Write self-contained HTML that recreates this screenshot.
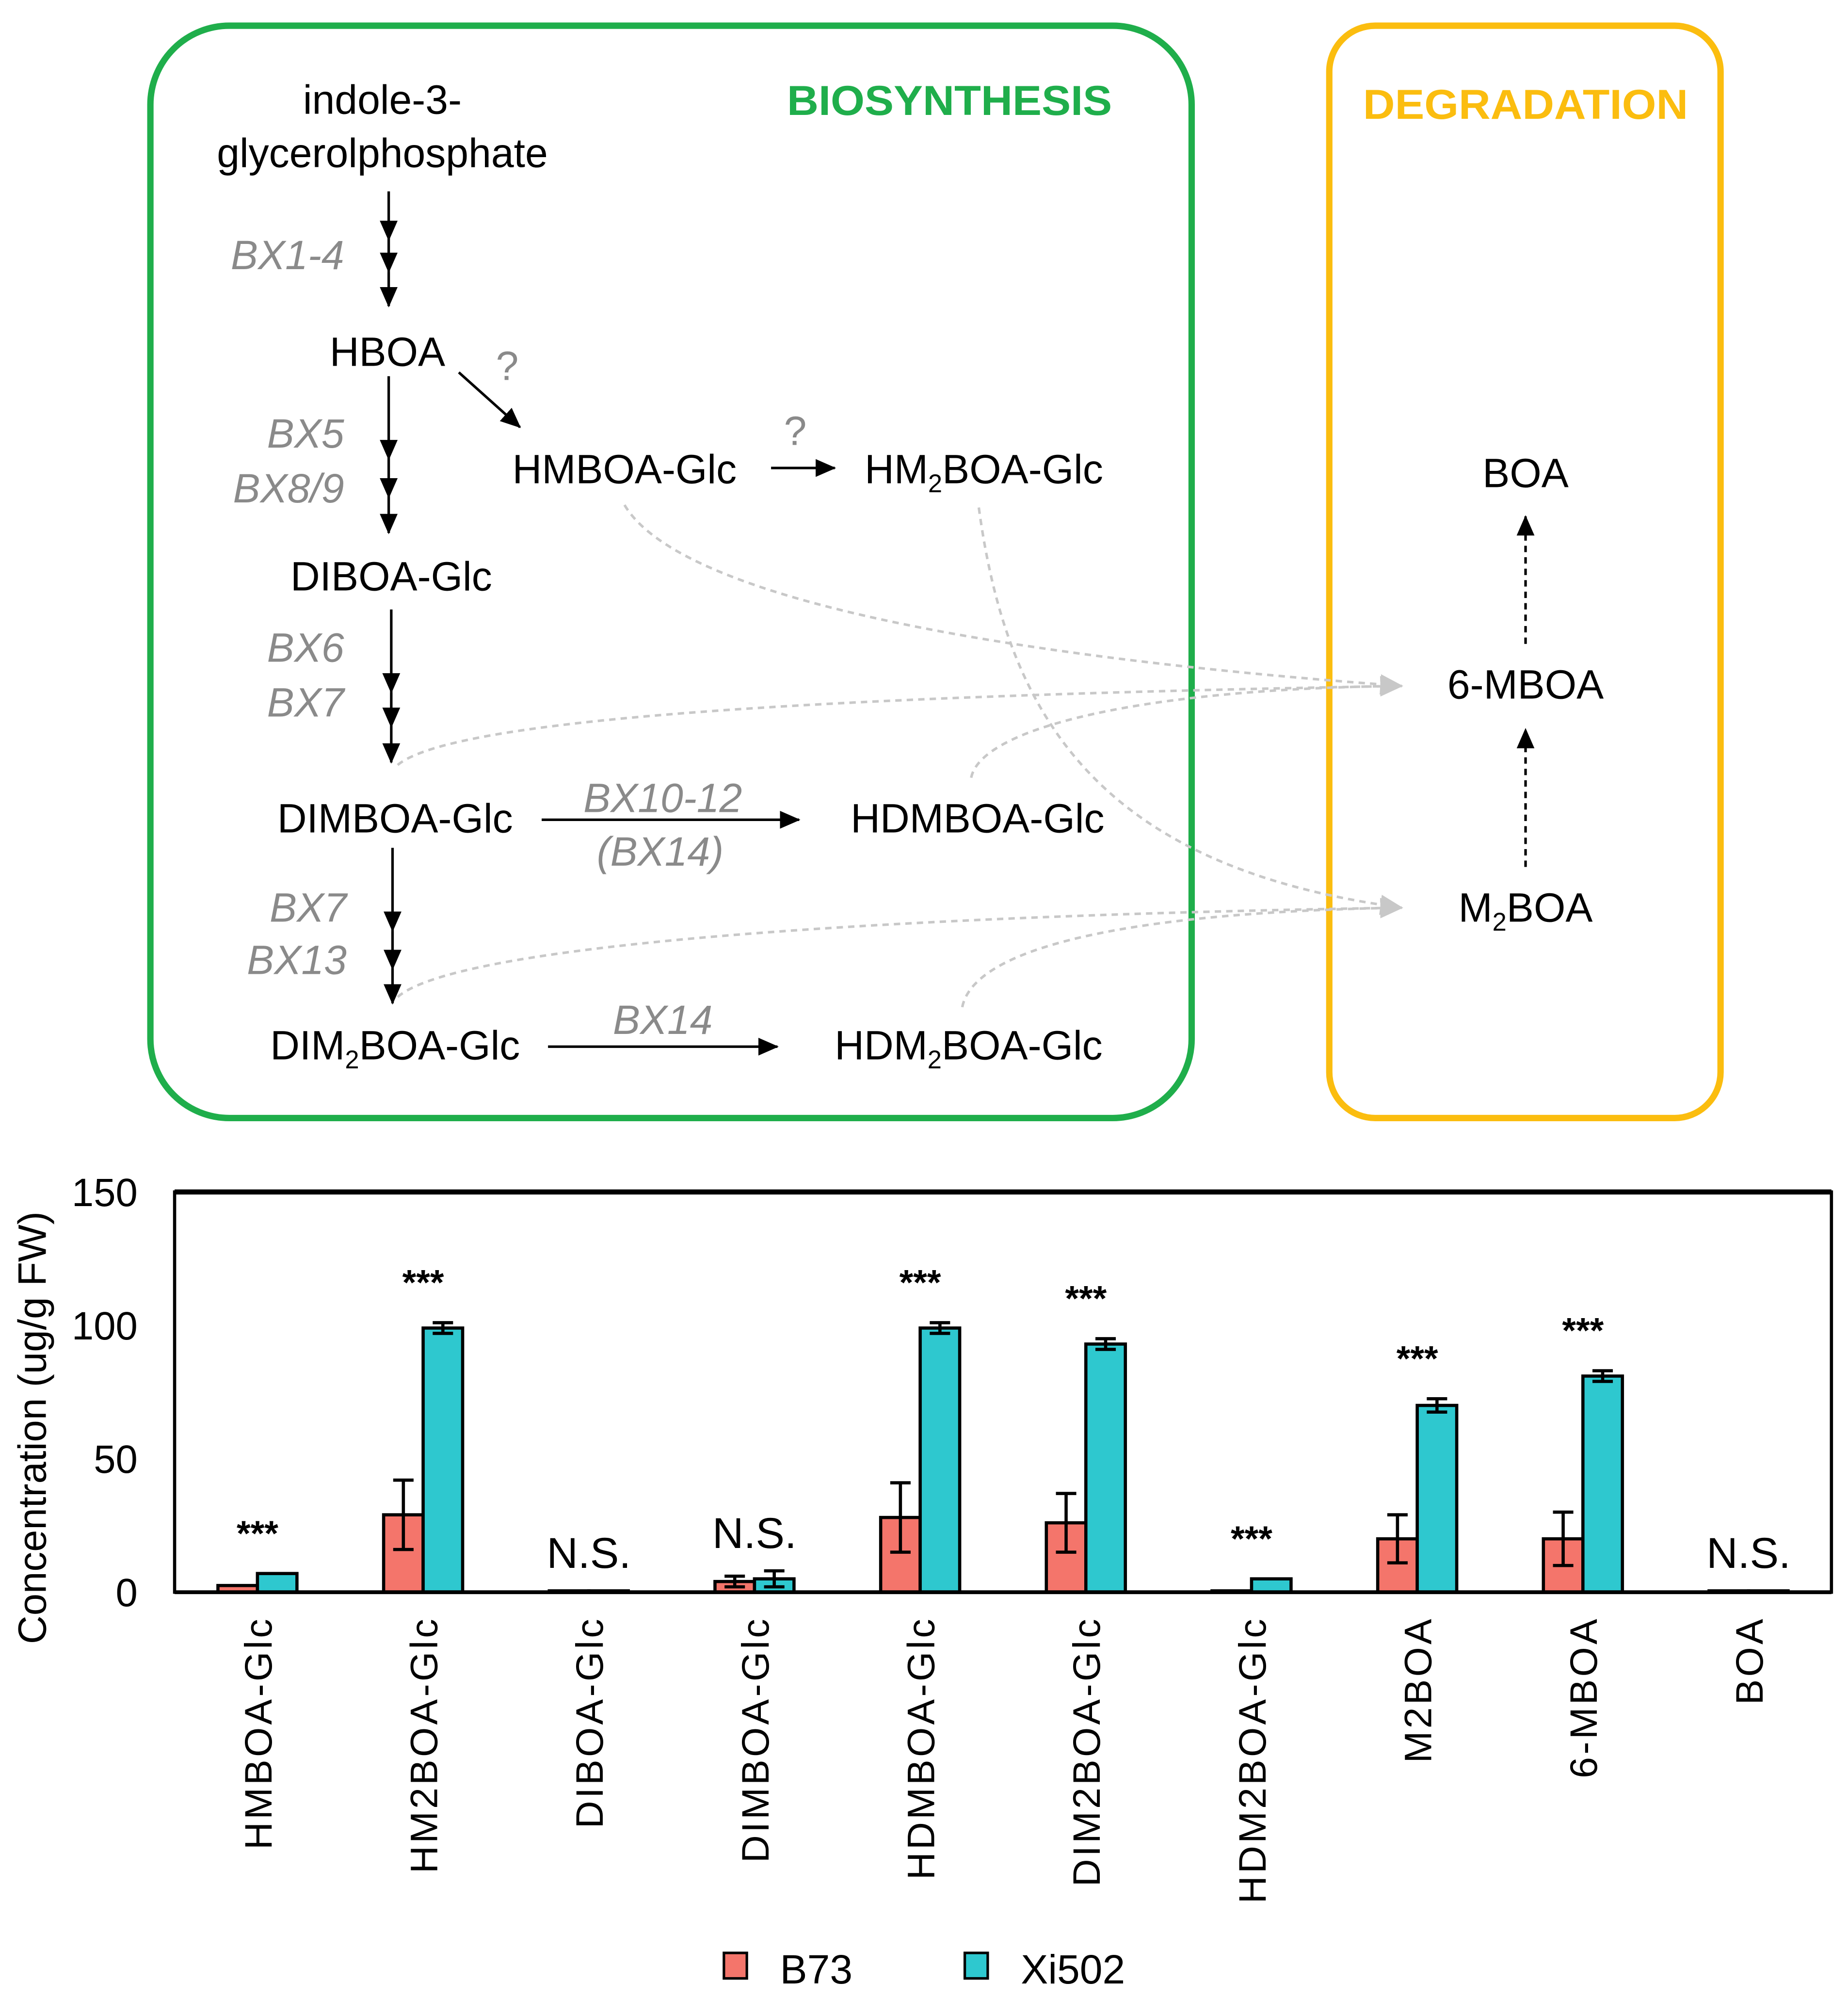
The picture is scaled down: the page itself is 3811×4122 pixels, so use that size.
<!DOCTYPE html>
<html><head><meta charset="utf-8">
<style>
html,body{margin:0;padding:0;background:#fff;}
svg{display:block;}
text{font-family:"Liberation Sans",Arial,sans-serif;}
</style></head>
<body>
<svg id="fig" width="3811" height="4122" viewBox="0 0 1450 1568" xmlns="http://www.w3.org/2000/svg">
<defs>
<marker id="ahl" markerWidth="16" markerHeight="14" refX="15" refY="7" orient="auto" markerUnits="userSpaceOnUse"><path d="M0,0 L16,7 L0,14 z" fill="#000"/></marker>
<marker id="ahg" markerWidth="18" markerHeight="16" refX="17" refY="8" orient="auto" markerUnits="userSpaceOnUse"><path d="M0,0 L18,8 L0,16 z" fill="#c8c8c8"/></marker>
</defs>

<g>
<rect x="118" y="20" width="817" height="857" rx="62" fill="none" stroke="#1fae4b" stroke-width="5"/>
<rect x="1043" y="20" width="307" height="857" rx="36" fill="none" stroke="#fbbd0f" stroke-width="5"/>
<text x="745" y="90" text-anchor="middle" font-size="33" font-weight="bold" fill="#1fae4b" textLength="255" lengthAdjust="spacingAndGlyphs">BIOSYNTHESIS</text>
<text x="1197" y="93" text-anchor="middle" font-size="33" font-weight="bold" fill="#fbbd0f" textLength="255" lengthAdjust="spacingAndGlyphs">DEGRADATION</text>

<g font-size="32" fill="#000" text-anchor="middle">
<text x="300" y="89">indole-3-</text>
<text x="300" y="131">glycerolphosphate</text>
<text x="304" y="287">HBOA</text>
<text x="490" y="379">HMBOA-Glc</text>
<text x="772" y="379">HM<tspan font-size="20" dy="7">2</tspan><tspan dy="-7">BOA-Glc</tspan></text>
<text x="307" y="463">DIBOA-Glc</text>
<text x="310" y="653">DIMBOA-Glc</text>
<text x="767" y="653">HDMBOA-Glc</text>
<text x="310" y="831">DIM<tspan font-size="20" dy="7">2</tspan><tspan dy="-7">BOA-Glc</tspan></text>
<text x="760" y="831">HDM<tspan font-size="20" dy="7">2</tspan><tspan dy="-7">BOA-Glc</tspan></text>
<text x="1197" y="382">BOA</text>
<text x="1197" y="548">6-MBOA</text>
<text x="1197" y="723">M<tspan font-size="20" dy="7">2</tspan><tspan dy="-7">BOA</tspan></text>
</g>

<g font-size="32" font-style="italic" fill="#8a8a8a">
<text x="270" y="211" text-anchor="end">BX1-4</text>
<text x="270" y="351" text-anchor="end">BX5</text>
<text x="270" y="394" text-anchor="end">BX8/9</text>
<text x="270" y="519" text-anchor="end">BX6</text>
<text x="270" y="562" text-anchor="end">BX7</text>
<text x="272" y="723" text-anchor="end">BX7</text>
<text x="272" y="764" text-anchor="end">BX13</text>
<text x="520" y="637" text-anchor="middle">BX10-12</text>
<text x="518" y="679" text-anchor="middle">(BX14)</text>
<text x="520" y="811" text-anchor="middle">BX14</text>
<text x="398" y="298" text-anchor="middle" font-style="normal">?</text>
<text x="624" y="349" text-anchor="middle" font-style="normal">?</text>
</g>

<g stroke="#000" stroke-width="2" fill="none">
<line x1="305" y1="150" x2="305" y2="188" marker-end="url(#ahl)"/>
<line x1="305" y1="188" x2="305" y2="213" marker-end="url(#ahl)"/>
<line x1="305" y1="213" x2="305" y2="240" marker-end="url(#ahl)"/>
<line x1="360" y1="292" x2="408" y2="335" marker-end="url(#ahl)"/>
<line x1="305" y1="295" x2="305" y2="360" marker-end="url(#ahl)"/>
<line x1="305" y1="360" x2="305" y2="390" marker-end="url(#ahl)"/>
<line x1="305" y1="390" x2="305" y2="418" marker-end="url(#ahl)"/>
<line x1="605" y1="367" x2="655" y2="367" marker-end="url(#ahl)"/>
<line x1="307" y1="478" x2="307" y2="543" marker-end="url(#ahl)"/>
<line x1="307" y1="543" x2="307" y2="570" marker-end="url(#ahl)"/>
<line x1="307" y1="570" x2="307" y2="598" marker-end="url(#ahl)"/>
<line x1="425" y1="643" x2="627" y2="643" marker-end="url(#ahl)"/>
<line x1="308" y1="665" x2="308" y2="730" marker-end="url(#ahl)"/>
<line x1="308" y1="730" x2="308" y2="760" marker-end="url(#ahl)"/>
<line x1="308" y1="760" x2="308" y2="787" marker-end="url(#ahl)"/>
<line x1="430" y1="821" x2="610" y2="821" marker-end="url(#ahl)"/>
<line x1="1197" y1="505" x2="1197" y2="405" stroke-dasharray="5,4" marker-end="url(#ahl)"/>
<line x1="1197" y1="680" x2="1197" y2="572" stroke-dasharray="5,4" marker-end="url(#ahl)"/>
</g>
<g stroke="#c8c8c8" stroke-width="2" fill="none" stroke-dasharray="5,4">
<path d="M490,396 C540,480 850,520 1100,538" marker-end="url(#ahg)"/>
<path d="M312,600 C360,560 700,545 1100,538" marker-end="url(#ahg)"/>
<path d="M762,610 C770,570 900,540 1100,538" marker-end="url(#ahg)"/>
<path d="M768,398 C790,560 860,680 1100,712" marker-end="url(#ahg)"/>
<path d="M312,782 C360,740 700,718 1100,712" marker-end="url(#ahg)"/>
<path d="M755,790 C765,740 900,715 1100,712" marker-end="url(#ahg)"/>
</g>
</g>

<g id="chart"></g>
</svg>
<script>
const categories = ["HMBOA-Glc","HM2BOA-Glc","DIBOA-Glc","DIMBOA-Glc","HDMBOA-Glc","DIM2BOA-Glc","HDM2BOA-Glc","M2BOA","6-MBOA","BOA"];
const b73Values = [2.5, 29, 0.5, 4, 28, 26, 0.5, 20, 20, 0.5];
const b73Errors = [0, 13, 0, 2, 13, 11, 0, 9, 10, 0];
const xi502Values = [7, 99, 0.5, 5, 99, 93, 5, 70, 81, 0.5];
const xi502Errors = [0, 2, 0, 3, 2, 2, 0, 2.5, 2, 0];
const significance = ["***","***","N.S.","N.S.","***","***","***","***","***","N.S."];
const yTicks = [0, 50, 100, 150];

const NS = "http://www.w3.org/2000/svg";
const g = document.getElementById("chart");
const X0 = 137, X1 = 1437, Y0 = 1249, Y1 = 935, YMAX = 150;
const yS = v => Y0 - (v / YMAX) * (Y0 - Y1);
const groupW = (X1 - X0) / categories.length;
const xC = i => X0 + groupW * (i + 0.5);
const BW = 31;
function mk(tag, attrs, parent) {
  const e = document.createElementNS(NS, tag);
  for (const k in attrs) e.setAttribute(k, attrs[k]);
  (parent || g).appendChild(e);
  return e;
}
let fr = mk("rect", {x: X0, y: Y1, width: X1 - X0, height: Y0 - Y1, fill: "none", stroke: "#000", "stroke-width": 2.5});


let tl = mk("line", {x1: X0, y1: Y1, x2: X1, y2: Y1, stroke: "#000", "stroke-width": 4});


yTicks.forEach(t => {
  const e = mk("text", {x: 108, y: yS(t) + 11, "text-anchor": "end", "font-size": 31});
  e.textContent = t;
  
  
});
const yt = mk("text", {x: 0, y: 0, "text-anchor": "middle", "font-size": 31, transform: "translate(36,1120) rotate(-90)"});
yt.textContent = "Concentration (ug/g FW)";



function bar(x, v, err, color, name) {
  const r = mk("rect", {x: x, y: yS(v), width: BW, height: Y0 - yS(v), fill: color, stroke: "#000", "stroke-width": 2.5});
  
  
  if (err > 0) {
    const cx = x + BW / 2;
    const eb = mk("path", {d: `M${cx},${yS(v - err)}V${yS(v + err)}M${cx - 8},${yS(v - err)}H${cx + 8}M${cx - 8},${yS(v + err)}H${cx + 8}`, stroke: "#000", "stroke-width": 2.5, fill: "none"});
    
    
  }
}
categories.forEach((c, i) => {
  const cx = xC(i);
  bar(cx - BW, b73Values[i], b73Errors[i], "#f4756b", "bar-b73");
  bar(cx, xi502Values[i], xi502Errors[i], "#2ec8cf", "bar-xi502");
  const top = Math.max(b73Values[i] + b73Errors[i], xi502Values[i] + xi502Errors[i]);
  const ns = significance[i] === "N.S.";
  const a = mk("text", {x: cx, y: yS(top) - (ns ? 18 : 22), "text-anchor": "middle", "font-size": ns ? 34 : 28, "font-weight": ns ? "normal" : "bold"});
  a.textContent = significance[i];
  
  
  const l = mk("text", {x: 0, y: 0, "text-anchor": "end", "font-size": 30, "letter-spacing": 2, transform: `translate(${cx + 11},1268) rotate(-90)`});
  l.textContent = c;
  
  
});
let zl = mk("line", {x1: X0, y1: Y0, x2: X1, y2: Y0, stroke: "#000", "stroke-width": 3});


[["B73", "#f4756b", 568], ["Xi502", "#2ec8cf", 757]].forEach(([n, c, x]) => {
  const s = mk("rect", {x: x, y: 1532, width: 18, height: 20, fill: c, stroke: "#000", "stroke-width": 2});
  
  
  const t = mk("text", {x: x + 44, y: 1556, "font-size": 32});
  t.textContent = n;
  
  
});
</script>
</body></html>
